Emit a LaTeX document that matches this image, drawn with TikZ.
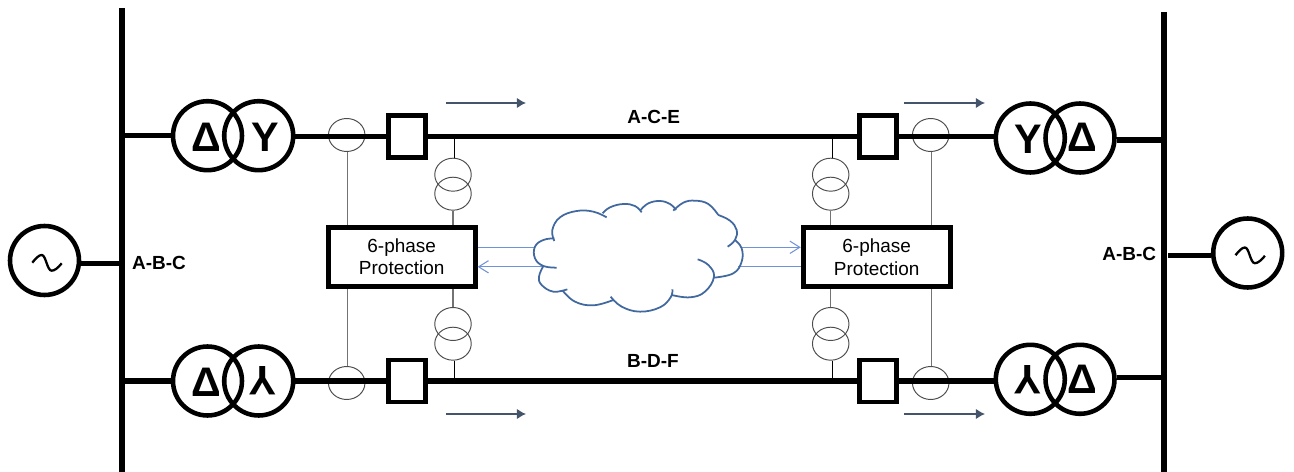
\documentclass[tikz,border=0pt]{standalone}
\usepackage{fontspec}
\setmainfont{Liberation Sans}
\usetikzlibrary{arrows.meta,shapes.geometric}
\definecolor{flowblue}{HTML}{44546A}
\definecolor{cloudblue}{HTML}{41689F}
\definecolor{linkblue}{HTML}{6F93D6}
\tikzset{>=latex}
\tikzstyle{bus}=[line width=2.9pt]
\tikzstyle{winding}=[circle,draw,line width=2.6pt,minimum size=1.38cm,inner sep=0pt]
\tikzstyle{breaker}=[rectangle,draw,line width=2.7pt,minimum width=0.73cm,minimum height=0.84cm]
\tikzstyle{relay}=[rectangle,draw,line width=2.8pt,minimum width=2.94cm,minimum height=1.18cm,inner sep=0pt,align=center,font=\fontsize{10.8}{13}\selectfont]
\tikzstyle{ct}=[ellipse,draw=black!70,line width=0.55pt,minimum width=0.73cm,minimum height=0.66cm,inner sep=0pt]
\tikzstyle{wiring}=[draw=black!55,line width=0.6pt]
\tikzstyle{symb}=[inner sep=0pt,font=\fontsize{23.5}{24}\selectfont\bfseries]
\tikzstyle{phases}=[inner sep=0pt,font=\fontsize{10.8}{13}\selectfont\bfseries]
\tikzstyle{flow}=[-{Latex[length=5.2pt,width=6pt]},draw=flowblue,line width=0.85pt]
\tikzstyle{link}=[draw=linkblue,line width=0.6pt]
\tikzstyle{linkarrow}=[link,-{Straight Barb[length=5.6pt,width=7pt]}]
\tikzstyle{cloudline}=[draw=cloudblue,line width=1pt]

\begin{document}
\begin{tikzpicture}[x=0.02cm,y=-0.02cm]
	\useasboundingbox (0,0) rectangle (1294,472);

	\coordinate (busLtop) at (122,8);
	\coordinate (busLbot) at (122,472);
	\coordinate (busRtop) at (1164,12);
	\coordinate (busRbot) at (1164,472);
	\draw[bus] (busLtop) -- (busLbot);
	\draw[bus] (busRtop) -- (busRbot);

	\node[winding] (srcL) at (44.5,260.5) {};
	\node[winding] (srcR) at (1247.7,253) {};
	\coordinate (busRtap) at (1168,255.3);
	\draw[bus] ([yshift=-0.055cm]srcL.east) -- ([yshift=-0.055cm]srcL.east -| busLtop);
	\draw[bus] (busRtap) -- (busRtap -| srcR.west);
	\draw[line width=1.3pt,shift={(srcL)}] (-12.2,2.2) .. controls (-8.5,-2.5) and (-5.5,-5.5) .. (-2.8,-5.5) .. controls (1.5,-5.5) and (2.5,10.2) .. (7.2,10.2) .. controls (10,10.2) and (13.5,7.5) .. (17.2,2.8);
	\draw[line width=1.3pt,shift={(srcR)}] (-12.2,2.2) .. controls (-8.5,-2.5) and (-5.5,-5.5) .. (-2.8,-5.5) .. controls (1.5,-5.5) and (2.5,10.2) .. (7.2,10.2) .. controls (10,10.2) and (13.5,7.5) .. (17.2,2.8);
	\node[phases] (phaseL) at (159,262.7) {A-B-C};
	\node[phases] (phaseR) at (1129.3,254) {A-B-C};

	\node[winding] (xfmrA1) at (207.5,135.7) {};
	\node[winding] (xfmrA2) at (258.7,135.7) {};
	\node[symb] (symbA1) at (206.3,137) {Δ};
	\node[symb] (symbA2) at (264.8,137.5) {Y};
	\node[ct] (ctA) at (346.7,135) {};
	\node[breaker] (brkA) at (407,136.5) {};
	\node[ct] (vtA1) at (453,174.7) {};
	\node[ct] (vtA2) at (453,193.7) {};

	\node[winding] (xfmrB1) at (207.5,381) {};
	\node[winding] (xfmrB2) at (258.7,381) {};
	\node[symb] (symbB1) at (206.3,382.5) {Δ};
	\node[symb,rotate=180] (symbB2) at (262.5,380.5) {Y};
	\node[ct] (ctB) at (346.7,383) {};
	\node[breaker] (brkB) at (407,381) {};
	\node[ct] (vtB1) at (453,324) {};
	\node[ct] (vtB2) at (453,343.7) {};

	\node[breaker] (brkC) at (878,136.5) {};
	\node[ct] (ctC) at (930.7,135) {};
	\node[winding] (xfmrC1) at (1030.3,138) {};
	\node[winding] (xfmrC2) at (1080,138) {};
	\node[symb] (symbC1) at (1028,139) {Y};
	\node[symb] (symbC2) at (1082.7,137.5) {Δ};
	\node[ct] (vtC1) at (830.7,174.7) {};
	\node[ct] (vtC2) at (830.7,193.7) {};

	\node[breaker] (brkD) at (878,381) {};
	\node[ct] (ctD) at (930.7,383) {};
	\node[winding] (xfmrD1) at (1030.3,379.3) {};
	\node[winding] (xfmrD2) at (1080,379.3) {};
	\node[symb,rotate=180] (symbD1) at (1028,380) {Y};
	\node[symb] (symbD2) at (1082.7,379) {Δ};
	\node[ct] (vtD1) at (830.7,324) {};
	\node[ct] (vtD2) at (830.7,343.7) {};

	\node[relay] (relayL) at (401.7,256.7) {6-phase\\Protection};
	\node[relay] (relayR) at (876.7,257) {6-phase\\Protection};

	\draw[bus] (xfmrA1.west) -- (xfmrA1.west -| busLtop);
	\draw[bus] (xfmrA2.east |- brkA.west) -- (brkA.west);
	\draw[bus] (brkA.east) -- (brkC.west);
	\draw[bus] (brkC.east) -- (brkC.east -| xfmrC1.west);
	\draw[bus] ([yshift=-0.04cm]xfmrC2.east) -- ([yshift=-0.04cm]xfmrC2.east -| busRtop);

	\draw[bus] (xfmrB1.west) -- (xfmrB1.west -| busLtop);
	\draw[bus] (xfmrB2.east) -- (brkB.west);
	\draw[bus] (brkB.east) -- (brkD.west);
	\draw[bus] (brkD.east) -- (brkD.east -| xfmrD1.west);
	\draw[bus] ([yshift=0.04cm]xfmrD2.east) -- ([yshift=0.04cm]xfmrD2.east -| busRtop);

	\node[phases] (lineA) at (653.7,117.3) {A-C-E};
	\node[phases] (lineB) at (653,360.7) {B-D-F};

	\draw[wiring] ([xshift=0.02cm]ctA.south) -- ([xshift=0.02cm]ctA.south |- relayL.north);
	\draw[wiring] ([xshift=0.02cm]ctB.north) -- ([xshift=0.02cm]ctB.north |- relayL.south);
	\draw[wiring] ([xshift=0.025cm]ctC.south) -- ([xshift=0.025cm]ctC.south |- relayR.north);
	\draw[wiring] ([xshift=0.025cm]ctD.north) -- ([xshift=0.025cm]ctD.north |- relayR.south);

	\draw[wiring] (vtA2.south) -- (vtA2.south |- relayL.north);
	\draw[wiring] (vtB1.north) -- (vtB1.north |- relayL.south);
	\draw[wiring] (vtC2.south) -- (vtC2.south |- relayR.north);
	\draw[wiring] (vtD1.north) -- (vtD1.north |- relayR.south);

	\draw[black,line width=0.6pt] ([xshift=0.025cm]vtA1.north) -- ([xshift=0.025cm]vtA1.north |- brkA.east);
	\draw[black,line width=0.6pt] ([xshift=0.025cm]vtB2.south) -- ([xshift=0.025cm]vtB2.south |- brkB.east);
	\draw[black,line width=0.6pt] ([xshift=0.04cm]vtC1.north) -- ([xshift=0.04cm]vtC1.north |- brkC.west);
	\draw[black,line width=0.6pt] ([xshift=0.04cm]vtD2.south) -- ([xshift=0.04cm]vtD2.south |- brkD.west);

	\coordinate (flowAs) at (446,103);
	\coordinate (flowAe) at (526,103);
	\coordinate (flowBs) at (446,414);
	\coordinate (flowBe) at (526,414);
	\coordinate (flowCs) at (904.3,103);
	\coordinate (flowCe) at (985,103);
	\coordinate (flowDs) at (904.3,414);
	\coordinate (flowDe) at (985,414);
	\draw[flow] (flowAs) -- (flowAe);
	\draw[flow] (flowBs) -- (flowBe);
	\draw[flow] (flowCs) -- (flowCe);
	\draw[flow] (flowDs) -- (flowDe);

	\coordinate (cloudLa) at (534.5,247.3);
	\coordinate (cloudLb) at (543,266.8);
	\coordinate (cloudRa) at (741,247.3);
	\coordinate (cloudRb) at (737.7,266.8);
	\draw[link] (cloudLa) -- (cloudLa -| relayL.east);
	\draw[linkarrow] (cloudLb) -- (cloudLb -| relayL.east);
	\draw[linkarrow] (cloudRa) -- (cloudRa -| relayR.west);
	\draw[link] (cloudRb) -- (cloudRb -| relayR.west);

	\begin{scope}[shift={(460,180)},x=0.00667cm,y=-0.00667cm]
		\draw[cloudline] plot[smooth,tension=0.7] coordinates {(283,183) (277,150) (300,112) (350,93) (400,95) (440,112)};
		\draw[cloudline] plot[smooth,tension=0.7] coordinates {(428,100) (450,82) (490,72) (525,78) (545,97)};
		\draw[cloudline] plot[smooth,tension=0.7] coordinates {(542,90) (565,70) (600,63) (630,72) (648,90)};
		\draw[cloudline] plot[smooth,tension=0.7] coordinates {(640,92) (670,68) (705,62) (745,72) (775,105)};
		\draw[cloudline] plot[smooth,tension=0.7] coordinates {(775,105) (810,122) (830,150) (825,180) (803,200)};
		\draw[cloudline] plot[smooth,tension=0.7] coordinates {(825,180) (845,205) (845,245) (820,280) (762,293)};
		\draw[cloudline] plot[smooth,tension=0.7] coordinates {(713,238) (745,255) (762,290) (735,335) (690,352) (635,345)};
		\draw[cloudline] plot[smooth,tension=0.7] coordinates {(637,328) (632,352) (600,382) (540,395) (485,380) (452,350)};
		\draw[cloudline] plot[smooth,tension=0.7] coordinates {(460,360) (400,376) (345,365) (308,332)};
		\draw[cloudline] plot[smooth,tension=0.7] coordinates {(322,328) (280,335) (245,315) (237,290) (250,258)};
		\draw[cloudline] plot[smooth,tension=0.7] coordinates {(290,263) (250,258) (225,235) (225,200) (250,180) (283,175)};
	\end{scope}
\end{tikzpicture}
\end{document}
